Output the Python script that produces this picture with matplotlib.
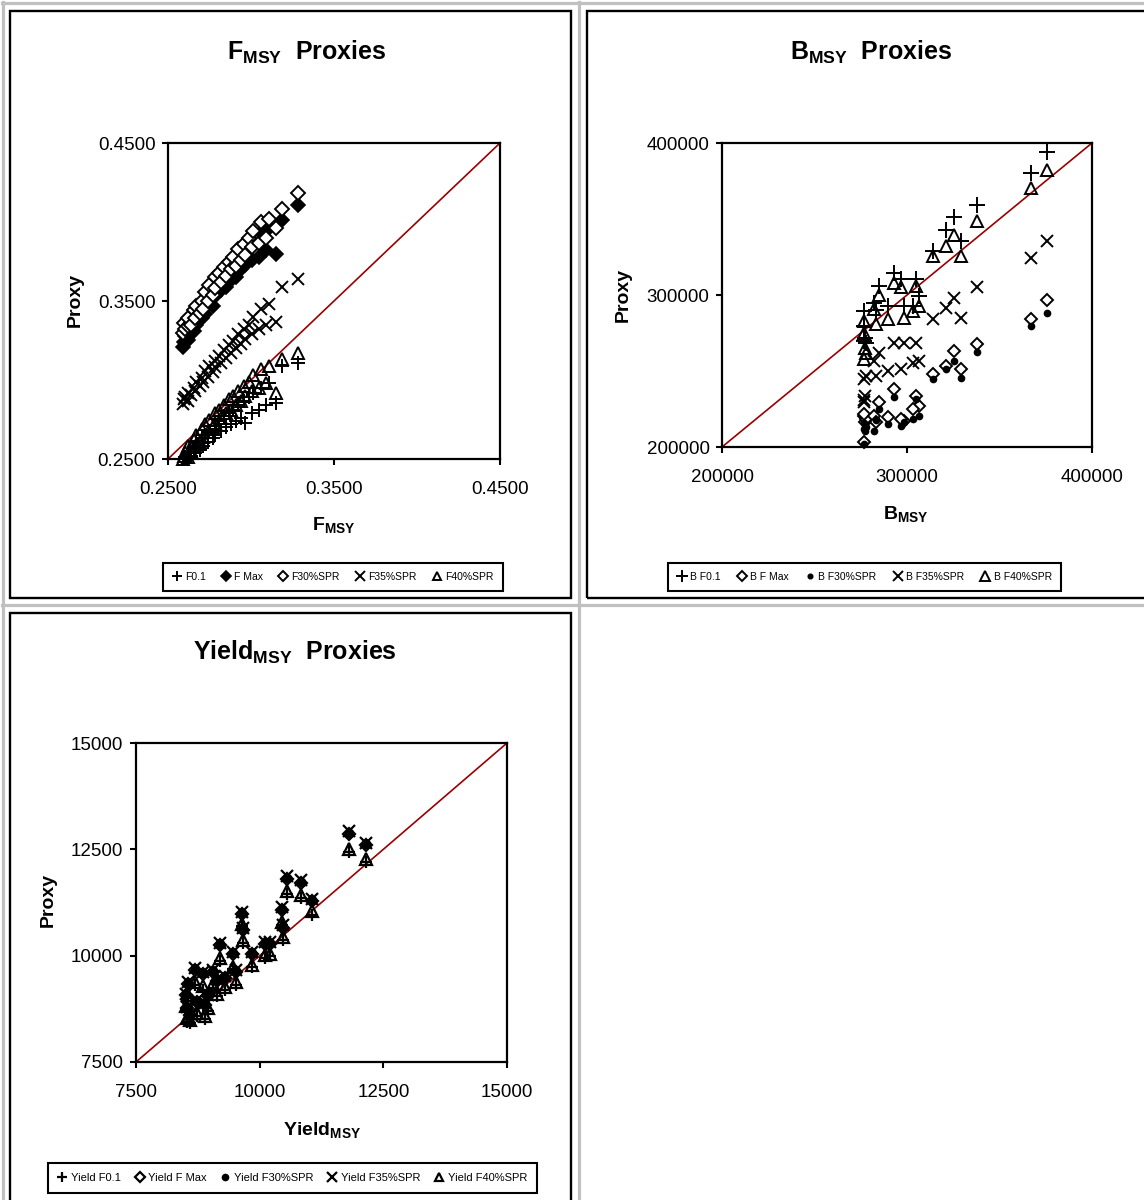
import matplotlib
matplotlib.use('Agg')
import matplotlib.pyplot as plt
from matplotlib.lines import Line2D
from matplotlib.patches import Rectangle

plt.rcParams['font.family'] = ['Liberation Sans', 'DejaVu Sans']
plt.rcParams['mathtext.fontset'] = 'custom'
plt.rcParams['mathtext.rm'] = 'Liberation Sans'
plt.rcParams['mathtext.bf'] = 'Liberation Sans:bold'

# ---- panel 1: F_MSY vs proxies
fmsy = [0.2592, 0.2596, 0.2601, 0.2618, 0.2622, 0.2640, 0.2655, 0.2661, 0.2668, 0.2690,
        0.2702, 0.2708, 0.2725, 0.2741, 0.2745, 0.2770, 0.2782, 0.2785, 0.2810, 0.2822,
        0.2840, 0.2848, 0.2866, 0.2880, 0.2891, 0.2910, 0.2922, 0.2940, 0.2955, 0.2962,
        0.2988, 0.3004, 0.3015, 0.3048, 0.3062, 0.3090, 0.3110, 0.3148, 0.3185, 0.3285]
f_f01 = [0.2500, 0.2500, 0.2510, 0.2500, 0.2540, 0.2520, 0.2570, 0.2535, 0.2600, 0.2560,
         0.2630, 0.2580, 0.2650, 0.2610, 0.2680, 0.2630, 0.2710, 0.2650, 0.2740, 0.2680,
         0.2770, 0.2700, 0.2790, 0.2720, 0.2810, 0.2740, 0.2840, 0.2760, 0.2870, 0.2730,
         0.2890, 0.2790, 0.2920, 0.2810, 0.2950, 0.2840, 0.2980, 0.2855, 0.3090, 0.3110]
f_fmax = [0.3210, 0.3240, 0.3280, 0.3255, 0.3300, 0.3330, 0.3310, 0.3370, 0.3350, 0.3410,
          0.3390, 0.3440, 0.3420, 0.3480, 0.3520, 0.3470, 0.3560, 0.3530, 0.3600, 0.3570,
          0.3640, 0.3590, 0.3680, 0.3630, 0.3710, 0.3650, 0.3760, 0.3700, 0.3790, 0.3730,
          0.3830, 0.3760, 0.3870, 0.3780, 0.3930, 0.3820, 0.3960, 0.3800, 0.4010, 0.4110]
f_f30 = [0.3300, 0.3362, 0.3325, 0.3340, 0.3395, 0.3350, 0.3440, 0.3395, 0.3470, 0.3425,
         0.3500, 0.3450, 0.3560, 0.3500, 0.3600, 0.3540, 0.3650, 0.3580, 0.3680, 0.3620,
         0.3715, 0.3660, 0.3750, 0.3700, 0.3780, 0.3720, 0.3830, 0.3760, 0.3860, 0.3790,
         0.3900, 0.3840, 0.3940, 0.3870, 0.4000, 0.3900, 0.4020, 0.3960, 0.4080, 0.4185]
f_f35 = [0.2850, 0.2880, 0.2895, 0.2870, 0.2920, 0.2905, 0.2950, 0.2930, 0.2985, 0.2960,
         0.3010, 0.2985, 0.3060, 0.3020, 0.3090, 0.3050, 0.3120, 0.3080, 0.3150, 0.3110,
         0.3190, 0.3140, 0.3220, 0.3170, 0.3250, 0.3200, 0.3290, 0.3230, 0.3320, 0.3260,
         0.3350, 0.3290, 0.3400, 0.3320, 0.3450, 0.3350, 0.3480, 0.3370, 0.3590, 0.3640]
f_f40 = [0.2500, 0.2520, 0.2545, 0.2510, 0.2580, 0.2550, 0.2620, 0.2580, 0.2650, 0.2610,
         0.2690, 0.2640, 0.2720, 0.2670, 0.2750, 0.2700, 0.2790, 0.2730, 0.2810, 0.2760,
         0.2840, 0.2790, 0.2880, 0.2810, 0.2900, 0.2840, 0.2930, 0.2870, 0.2960, 0.2900,
         0.2990, 0.2930, 0.3030, 0.2950, 0.3070, 0.2980, 0.3090, 0.2920, 0.3130, 0.3170]

# ---- panel 2: B_MSY vs proxies
b_msy = [276500, 277500, 276800, 278000, 277000, 284800, 281900, 283000, 293200, 289700, 298600,
         296800, 304900, 306700, 303100, 313900, 321100, 325600, 329200, 337600, 366900, 375900]
b_f01 = [289400, 271900, 269700, 268600, 279600, 305800, 294900, 290000, 314500, 292700, 292700,
         310200, 310200, 299200, 292700, 328700, 342900, 351300, 335300, 359300, 380100, 394300]
b_fmax = [220500, 216200, 203100, 218400, 222000, 229300, 220500, 216200, 238000, 219500, 217000,
          218400, 233700, 227100, 225000, 247900, 253000, 263200, 251100, 268000, 284400, 297000]
b_f30 = [211800, 210700, 202000, 213000, 216000, 224900, 210700, 218000, 232600, 215100, 216200,
         214000, 231500, 220500, 218400, 244600, 251100, 256600, 245700, 262700, 279600, 287900]
b_f35 = [244600, 233700, 229300, 246800, 231000, 262100, 256600, 246800, 268600, 250000, 268600,
         251100, 268600, 256600, 255500, 283900, 291600, 298100, 285000, 305300, 324400, 335300]
b_f40 = [282800, 265400, 257700, 262100, 275000, 300300, 290500, 280700, 308000, 283900, 285000,
         305000, 305800, 292700, 289400, 325500, 332000, 339700, 325900, 348400, 370300, 382300]

# ---- panel 3: Yield_MSY vs proxies
y_msy = [11800, 12150, 10550, 10840, 11050, 10450, 10470, 9640, 9660, 9200, 9470, 9530, 9840, 10110,
         10200, 8700, 8860, 9060, 8560, 9130, 8520, 8730, 8890, 8530, 8600, 8950, 9300]
y_f01 = [12430, 12200, 11440, 11350, 10950, 10720, 10380, 10690, 10300, 9870, 9680, 9300, 9730, 9950,
         9990, 9300, 9200, 9250, 9000, 9040, 8740, 8590, 8510, 8450, 8420, 8700, 9200]
y_fmax = [12860, 12600, 11800, 11720, 11280, 11080, 10660, 10980, 10600, 10250, 10050, 9620, 10050, 10280,
          10270, 9660, 9580, 9620, 9340, 9400, 9080, 8920, 8850, 8770, 8600, 9050, 9480]
y_f30 = [12880, 12620, 11820, 11740, 11300, 11100, 10680, 11000, 10620, 10270, 10070, 9640, 10070, 10300,
         10290, 9680, 9600, 9640, 9360, 9420, 9100, 8940, 8870, 8790, 8610, 9070, 9500]
y_f35 = [12940, 12660, 11880, 11770, 11340, 11140, 10710, 11020, 10640, 10290, 10090, 9660, 10090, 10320,
         10310, 9700, 9620, 9660, 9380, 9440, 9110, 8950, 8880, 8800, 8620, 9080, 9520]
y_f40 = [12510, 12280, 11520, 11420, 11050, 10800, 10450, 10750, 10370, 9940, 9740, 9380, 9790, 10010,
         10050, 9370, 9290, 9330, 9080, 9110, 8820, 8660, 8580, 8530, 8490, 8770, 9270]

W, H = 1144, 1200
fig = plt.figure(figsize=(W / 100, H / 100), dpi=100)


def box(x0, y0, x1, y1):
    # pixel box (top-left origin) -> figure fraction
    return [x0 / W, 1 - y1 / H, (x1 - x0) / W, (y1 - y0) / H]


def fx(x):
    return x / W


def fy(y):
    return 1 - y / H


# table grid lines
grey = '#c0c0c0'
for y in [3, 605]:
    fig.add_artist(Line2D([fx(2), 1], [fy(y), fy(y)], transform=fig.transFigure, color=grey, lw=2.3))
for x in [3, 579]:
    fig.add_artist(Line2D([fx(x), fx(x)], [0, fy(2)], transform=fig.transFigure, color=grey, lw=2.3))

# chart area borders
for (x0, y0, x1, y1) in [(9.5, 11, 571, 598), (587, 11, 1152, 598), (9.5, 613, 571, 1210)]:
    b = box(x0, y0, x1, y1)
    fig.add_artist(Rectangle((b[0], b[1]), b[2], b[3], transform=fig.transFigure,
                             fill=False, ec='black', lw=1.7))


def style_axes(ax, lo, hi, ticks, labels):
    ax.set_xlim(lo, hi)
    ax.set_ylim(lo, hi)
    ax.set_xticks(ticks)
    ax.set_yticks(ticks)
    ax.set_xticklabels(labels)
    ax.set_yticklabels(labels)
    for s in ax.spines.values():
        s.set_linewidth(1.6)
    ax.tick_params(direction='out', length=4, width=1.5, labelsize=13.5)
    ax.tick_params(axis='x', pad=12)
    ax.tick_params(axis='y', pad=5)
    ax.plot([lo, hi], [lo, hi], color='#990000', lw=1.2, zorder=1, clip_on=False)


def add_legend(ax, x0, y0, x1, y1, fs):
    b = box(x0, y0, x1, y1)
    leg = ax.legend(loc='center', bbox_to_anchor=b, bbox_transform=fig.transFigure, mode='expand',
                    ncol=5, fontsize=fs, frameon=True, fancybox=False, edgecolor='black',
                    framealpha=1, borderaxespad=0, borderpad=0.9, handlelength=0.8,
                    handletextpad=0.4, columnspacing=0.6, markerscale=0.75)
    leg.get_frame().set_linewidth(1.5)


mk = dict(linestyle='none', mec='black', clip_on=False, zorder=3)

# panel 1
ax1 = fig.add_axes(box(168, 143, 500, 459))
style_axes(ax1, 0.25, 0.45, [0.25, 0.35, 0.45], ['0.2500', '0.3500', '0.4500'])
ax1.plot(fmsy, f_f01, marker='+', ms=10, mew=1.4, label='F0.1', **mk)
ax1.plot(fmsy, f_fmax, marker='D', ms=7, mew=1.2, mfc='black', label='F Max', **mk)
ax1.plot(fmsy, f_f30, marker='D', ms=7, mew=1.4, mfc='white', label='F30%SPR', **mk)
ax1.plot(fmsy, f_f35, marker='x', ms=9, mew=1.4, label='F35%SPR', **mk)
ax1.plot(fmsy, f_f40, marker='^', ms=8, mew=1.4, mfc='none', label='F40%SPR', **mk)
add_legend(ax1, 163, 563, 503, 591, 7.5)

# panel 2
ax2 = fig.add_axes(box(722, 143, 1092, 447))
style_axes(ax2, 200000, 400000, [200000, 300000, 400000], ['200000', '300000', '400000'])
ax2.plot(b_msy, b_f01, marker='+', ms=12, mew=1.4, label='B F0.1', **mk)
ax2.plot(b_msy, b_fmax, marker='D', ms=6.5, mew=1.4, mfc='white', label='B F Max', **mk)
ax2.plot(b_msy, b_f30, marker='o', ms=4.5, mew=1.0, mfc='black', label='B F30%SPR', **mk)
ax2.plot(b_msy, b_f35, marker='x', ms=9, mew=1.4, label='B F35%SPR', **mk)
ax2.plot(b_msy, b_f40, marker='^', ms=9, mew=1.4, mfc='none', label='B F40%SPR', **mk)
add_legend(ax2, 668, 563, 1061, 591, 7.5)

# panel 3
ax3 = fig.add_axes(box(136, 743, 507, 1062))
style_axes(ax3, 7500, 15000, [7500, 10000, 12500, 15000], ['7500', '10000', '12500', '15000'])
ax3.plot(y_msy, y_f01, marker='+', ms=9, mew=1.6, label='Yield F0.1', **mk)
ax3.plot(y_msy, y_fmax, marker='D', ms=6.5, mew=1.6, mfc='white', label='Yield F Max', **mk)
ax3.plot(y_msy, y_f30, marker='o', ms=6, mew=1.0, mfc='black', label='Yield F30%SPR', **mk)
ax3.plot(y_msy, y_f35, marker='x', ms=9, mew=1.6, label='Yield F35%SPR', **mk)
ax3.plot(y_msy, y_f40, marker='^', ms=8, mew=1.6, mfc='none', label='Yield F40%SPR', **mk)
add_legend(ax3, 48, 1163, 537, 1193, 8)

# titles and axis labels
tkw = dict(ha='center', va='center', fontweight='bold')
fig.text(fx(307), fy(52), r'$\mathbf{F_{MSY}}$  Proxies', fontsize=18, **tkw)
fig.text(fx(871), fy(52), r'$\mathbf{B_{MSY}}$  Proxies', fontsize=18, **tkw)
fig.text(fx(295), fy(652), r'$\mathbf{Yield_{MSY}}$  Proxies', fontsize=18, **tkw)
fig.text(fx(334), fy(525), r'$\mathbf{F_{MSY}}$', fontsize=14, **tkw)
fig.text(fx(906), fy(514), r'$\mathbf{B_{MSY}}$', fontsize=14, **tkw)
fig.text(fx(322), fy(1130), r'$\mathbf{Yield_{MSY}}$', fontsize=14, **tkw)
fig.text(fx(75), fy(300), 'Proxy', rotation=90, fontsize=14, **tkw)
fig.text(fx(623), fy(295), 'Proxy', rotation=90, fontsize=14, **tkw)
fig.text(fx(48), fy(900), 'Proxy', rotation=90, fontsize=14, **tkw)

fig.savefig('out.png', dpi=100)
